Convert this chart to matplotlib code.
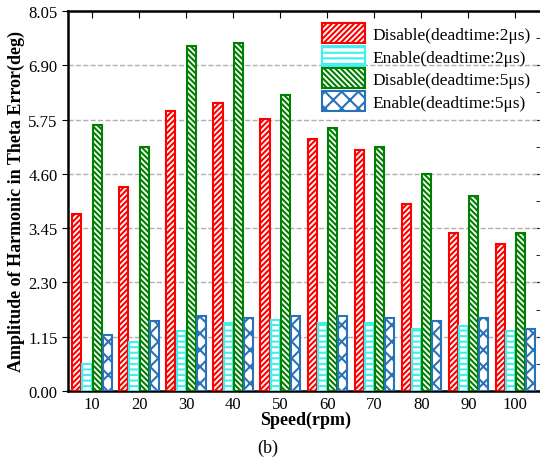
import numpy as np
import matplotlib.pyplot as plt
from matplotlib.ticker import MultipleLocator

plt.rcParams['font.family'] = ['Liberation Serif', 'DejaVu Serif']
plt.rcParams['hatch.linewidth'] = 1.5

# Datos
velocidades = ['10', '20', '30', '40', '50', '60', '70', '80', '90', '100']
dis_2us = [3.75, 4.32, 5.93, 6.10, 5.76, 5.34, 5.11, 3.96, 3.35, 3.11]
en_2us = [0.57, 1.04, 1.27, 1.44, 1.50, 1.44, 1.44, 1.31, 1.38, 1.27]
dis_5us = [5.64, 5.17, 7.31, 7.37, 6.27, 5.57, 5.17, 4.60, 4.13, 3.35]
en_5us = [1.19, 1.48, 1.59, 1.55, 1.59, 1.59, 1.55, 1.48, 1.55, 1.31]

series = [
    (dis_2us, 'Disable(deadtime:2\u03bcs)', 'red', '//////'),
    (en_2us, 'Enable(deadtime:2\u03bcs)', '#40f0f0', '---'),
    (dis_5us, 'Disable(deadtime:5\u03bcs)', 'green', '\\\\\\\\\\\\'),
    (en_5us, 'Enable(deadtime:5\u03bcs)', '#2a72b8', 'xx'),
]

fig = plt.figure(figsize=(5.4, 4.6), dpi=100)
ax = fig.add_axes([0.126, 0.148, 0.879, 0.826])

x = np.arange(len(velocidades))
w = 0.215
for k, (vals, lab, col, hat) in enumerate(series):
    ax.bar(x + (k - 1.5) * w, vals, w * 0.9, facecolor='white', edgecolor=col,
           hatch=hat, linewidth=1.5, label=lab, zorder=3)

ax.set_xlim(-0.51, 9.58)
ax.set_ylim(0, 8.05)
yt = np.arange(0, 8.06, 1.15)
ax.set_yticks(yt)
ax.set_yticklabels([f'{v:.2f}' for v in yt])
ax.yaxis.set_minor_locator(MultipleLocator(0.575))
ax.set_xticks(x)
ax.set_xticklabels(velocidades)
ax.tick_params(axis='both', labelsize=12)
ax.tick_params(axis='x', direction='in', top=True, bottom=False, length=5)
ax.tick_params(axis='y', which='major', direction='out', right=False, length=4)
ax.tick_params(axis='y', which='minor', left=False, right=True, direction='in', length=5)
# ticks derecho (mayores) hacia adentro
ax2 = ax.secondary_yaxis('right')
ax2.set_yticks(yt)
ax2.set_yticklabels([])
ax2.tick_params(direction='in', length=7)
ax2.spines['right'].set_visible(False)

ax.grid(axis='y', linestyle='--', color='#b0b0b0', linewidth=1, zorder=0)
for s in ax.spines.values():
    s.set_linewidth(1.8)
ax.spines['right'].set_visible(False)

ax.set_ylabel('Amplitude of Harmonic in Theta Error(deg)', fontsize=13, fontweight='bold', labelpad=2)
ax.set_xlabel('Speed(rpm)', fontsize=13, fontweight='bold', labelpad=-1)
fig.text(0.496, 0.015, '(b)', fontsize=13, ha='center')

ax.legend(loc='upper right', frameon=False, fontsize=12.5, handlelength=2.5, handleheight=1.4,
          labelspacing=0.15, borderaxespad=0.3, handletextpad=0.4)

fig.savefig('out.png', dpi=100)
